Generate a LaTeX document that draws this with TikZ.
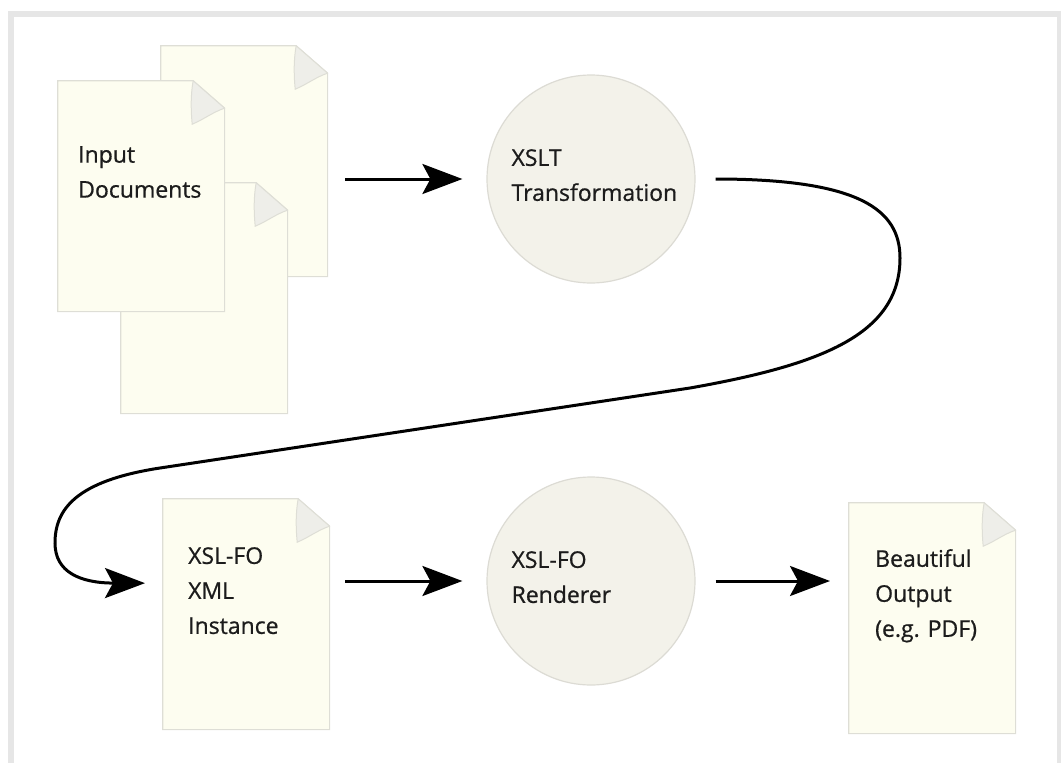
\documentclass[tikz,border=0pt]{standalone}
\usepackage{fontspec}
\setmainfont{Open Sans}[FakeBold=0.7]
\usetikzlibrary{arrows.meta}

\definecolor{paper}{RGB}{253,253,240}
\definecolor{paperline}{RGB}{222,222,214}
\definecolor{flapfill}{RGB}{238,238,233}
\definecolor{discfill}{RGB}{243,242,234}
\definecolor{discline}{RGB}{220,219,212}
\definecolor{framegray}{RGB}{230,230,230}
\definecolor{ink}{RGB}{28,28,28}

\begin{document}
\begin{tikzpicture}[x=1pt, y=-1pt, >=Stealth,
   sheet/.style={anchor=north west, minimum width=168pt, minimum height=232pt, inner sep=0pt,
      path picture={
         \coordinate (pw) at (path picture bounding box.north west);
         \coordinate (pn) at (path picture bounding box.north east);
         \coordinate (pe) at (path picture bounding box.south east);
         \coordinate (ps) at (path picture bounding box.south west);
         \filldraw[fill=paper, draw=paperline, line width=1.2pt]
            ([shift={(0.6pt,-0.6pt)}]pw) -- ([shift={(-32pt,-0.6pt)}]pn) -- ([shift={(-0.6pt,-28pt)}]pn)
            -- ([shift={(-0.6pt,0.6pt)}]pe) -- ([shift={(0.6pt,0.6pt)}]ps) -- cycle;
         % the turned-down corner
         \filldraw[fill=flapfill, draw=paperline, line width=1pt]
            ([shift={(-32pt,-0.6pt)}]pn) .. controls +(-3pt,-16pt) and +(-1pt,10pt) .. ([shift={(-33pt,-44pt)}]pn)
            .. controls +(12pt,5pt) and +(-12pt,-4pt) .. ([shift={(-0.6pt,-28pt)}]pn) -- cycle;
      }},
   proc/.style={circle, draw=discline, fill=discfill, line width=1.2pt, minimum size=208pt, inner sep=0pt},
   txt/.style={inner sep=0pt, align=left, text=ink, font=\fontsize{23}{35}\selectfont},
   flow/.style={line width=3pt, -{Stealth[length=40pt, width=30pt, inset=8pt]}}]

   \useasboundingbox (0,0) rectangle (1061,763);
   \draw[framegray, line width=6pt] (11,763) -- (11,13.5) -- (1060,13.5) -- (1060,763);

   % input documents, stacked
   \node[sheet] (back) at (160,45) {};
   \node[sheet] (lower) at (120,182) {};
   \node[sheet, label={[txt, anchor=north west, xshift=21pt, yshift=-66pt]north west:{Input\\Documents}}] (front) at (57,80) {};

   \node[proc, label={[txt, anchor=north west, xshift=25pt, yshift=30pt]west:{XSLT\\Transformation}}] (xslt) at (591,179) {};

   \node[sheet, label={[txt, anchor=north west, xshift=26pt, yshift=-49pt]north west:{XSL-FO\\XML\\Instance}}] (fo) at (162,498) {};
   \node[proc, label={[txt, anchor=north west, xshift=25pt, yshift=30pt]west:{XSL-FO\\Renderer}}] (render) at (591,581) {};
   \node[sheet, label={[txt, anchor=north west, xshift=27pt, yshift=-47pt]north west:{Beautiful\\Output\\(e.g. PDF)}}] (out) at (848,502) {};

   \draw[flow, shorten <=17pt, shorten >=24pt] (back.east |- xslt.west) -- (xslt.west);
   \draw[flow, shorten <=20pt, shorten >=17pt] (xslt.east) .. controls (860,179) and (900,210) .. (900,258)
      .. controls (900,335) and (820,365) .. (690,388) -- (160,468)
      .. controls (75,481) and (55,510) .. (55,543)
      .. controls (55,572) and (80,583) .. ([yshift=31pt]fo.west);
   \draw[flow, shorten <=15pt, shorten >=24pt] (fo.east |- render.west) -- (render.west);
   \draw[flow, shorten <=20pt, shorten >=18pt] (render.east) -- (render.east -| out.west);
\end{tikzpicture}
\end{document}
